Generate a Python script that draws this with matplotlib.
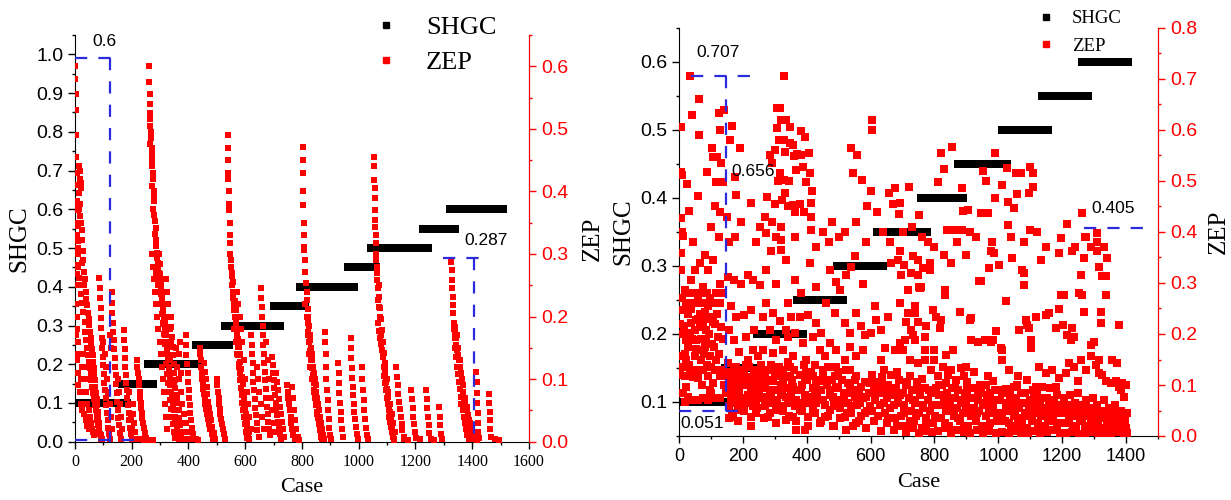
import matplotlib
matplotlib.use("Agg")
import matplotlib.pyplot as plt
import numpy as np
from matplotlib.lines import Line2D
from matplotlib.ticker import MultipleLocator

SANS = "Liberation Sans"
SERIF = "Liberation Serif"
RED = "#ff0000"
BLUE = "#2b2bdd"

# ---------------- left panel data ----------------
# SHGC steps: level, first case, last case
left_shgc = [0.10, 0.15, 0.20, 0.25, 0.30, 0.35, 0.40, 0.45, 0.50, 0.55, 0.60]
left_start = [0, 165, 258, 428, 528, 700, 792, 962, 1045, 1227, 1322]
left_end = [183, 275, 435, 545, 722, 810, 983, 1063, 1245, 1340, 1508]

# ZEP points (case, zep) per SHGC block
left_g010 = [(0,.600),(1,.580),(2,.555),(3,.530),(4,.490),(5,.455),(6,.430),(7,.410),(8,.385),(9,.370),(10,.345),(11,.320),(12,.310),
    (14,.440),(16,.432),(18,.420),(20,.414),(22,.406),(15,.398),(19,.380),(13,.372),(17,.360),(21,.350),(24,.338),(26,.322),
    (3,.300),(5,.282),(7,.268),(28,.305),(30,.290),(25,.285),(33,.272),(36,.260),(31,.250),(38,.240),(40,.228),(43,.218),(46,.205),
    (48,.196),(50,.186),(53,.176),(55,.166),(57,.158),(60,.148),(62,.138),(64,.128),(66,.118),(68,.108),(70,.098),(72,.088),(74,.078),
    (76,.068),(78,.058),(80,.048),(82,.040),(84,.030),(86,.020),(88,.012),(90,.004),
    (14,.262),(18,.250),(22,.236),(26,.222),(30,.208),(34,.192),(37,.176),(40,.162),(43,.150),(46,.138),(49,.128),(52,.118),(55,.108),
    (58,.098),(61,.088),(64,.078),(67,.068),(70,.058),(73,.050),(76,.042),(79,.034),(82,.026),(86,.018),(90,.010),(95,.004),
    (86,.262),(88,.246),(89,.230),(90,.214),(92,.198),(93,.182),(95,.166),(96,.150),(98,.136),(100,.122),(102,.108),(104,.094),
    (106,.082),(108,.070),(110,.058),(112,.046),(115,.034),(118,.022),(121,.012),(125,.004),
    (130,.240),(131,.222),(132,.206),(134,.190),(135,.176),(137,.162),(138,.148),(140,.134),(141,.120),(143,.106),(145,.092),
    (147,.078),(149,.064),(151,.050),(153,.038),(155,.026),(158,.014),(162,.004),
    (172,.178),(173,.162),(175,.148),(176,.134),(178,.120),(180,.106),(181,.094),(183,.082),(185,.070),(187,.058),(189,.046),
    (191,.034),(193,.022),(196,.012),(200,.004),
    (218,.130),(220,.120),(222,.110),(224,.100),(226,.090),(228,.080),(230,.070),(232,.062),(234,.054),(236,.046),(238,.038),
    (241,.030),(244,.022),(247,.014),(251,.006),
    (205,.060),(206,.045),(208,.030),(210,.015),(215,.004),(230,.004),(245,.003),(265,.003),(275,.003),
    (2,.25),(4,.22),(6,.20),(8,.18),(10,.16),(12,.14),(3,.17),(6,.13),(9,.11),(12,.09),(16,.08),(20,.10),(24,.12),(28,.14),
    (32,.12),(36,.10),(40,.08),(44,.06),(48,.05),(52,.04),(56,.03),(60,.02),(64,.015),(68,.01),(20,.06),(26,.05),(32,.045),
    (38,.035),(44,.025),(50,.02),(3,.38),(5,.35),(8,.33),(10,.30),(12,.28),(9,.25),(100,.16),(105,.14),(110,.12),(114,.10),
    (118,.08),(122,.06),(126,.04),(130,.02),(122,.17),(126,.15),(150,.10),(154,.08),(158,.06),(162,.04),(166,.02),(190,.08),
    (194,.06),(198,.04),(202,.02)]

left_g020 = [(262,.600),(262,.575),(263,.555),(264,.540),(265,.525),(266,.515),(265,.505),(267,.495),(268,.485),(266,.475),
    (270,.470),(272,.460),(271,.450),(273,.440),(274,.430),(276,.420),(272,.408),(277,.400),(278,.392),(280,.385),(276,.372),
    (279,.362),(282,.352),(284,.342),(281,.332),(285,.322),(286,.312),(288,.302),(290,.294),(292,.286),(294,.278),(296,.270),
    (298,.262),(300,.254),(302,.246),(304,.238),(306,.230),(308,.222),(310,.214),(312,.206),(314,.198),(316,.190),(318,.180),
    (320,.170),(322,.160),(324,.150),(326,.140),(328,.130),(330,.120),(332,.110),(334,.100),(336,.090),(339,.080),(342,.070),
    (345,.060),(348,.050),(351,.040),(354,.030),(358,.020),(362,.012),(366,.005),
    (296,.300),(298,.284),(300,.268),(302,.252),(304,.236),(306,.220),(308,.204),(310,.188),(313,.172),(316,.156),(319,.140),
    (322,.124),(325,.108),(328,.094),(331,.080),(334,.066),(337,.052),(340,.040),(344,.028),(348,.016),(352,.006),
    (338,.200),(340,.184),(342,.168),(344,.152),(346,.138),(348,.124),(350,.110),(352,.098),(354,.086),(357,.074),(360,.062),
    (363,.050),(366,.038),(370,.026),(374,.014),(378,.005),
    (390,.170),(392,.154),(393,.138),(395,.124),(397,.110),(399,.096),(401,.082),(403,.070),(405,.058),(407,.046),(410,.034),
    (413,.022),(417,.012),(421,.004),(385,.030),(425,.004),(432,.003),
    (270,.30),(274,.28),(278,.26),(282,.24),(286,.22),(290,.20),(294,.18),(298,.16),(302,.14),(306,.12),(310,.10),(314,.08),
    (318,.06),(322,.04),(326,.02),(285,.27),(292,.25),(300,.22),(310,.19),(318,.17),(326,.15),(334,.13),(342,.11),(350,.09),
    (358,.07),(366,.05),(374,.03),(380,.015),(320,.26),(324,.24),(328,.22),(332,.20),(336,.18),(340,.16),(330,.18),(355,.15),
    (360,.12),(366,.10),(372,.08),(378,.06),(384,.045),(390,.03),(396,.015),(400,.005),(365,.14),(370,.16),(375,.11)]

left_g025 = [(440,.150),(441,.140),(443,.130),(444,.120),(446,.110),(448,.100),(450,.092),(452,.084),(454,.076),(457,.068),
    (460,.060),(463,.052),(466,.044),(469,.036),(473,.028),(477,.020),(482,.012),(488,.005),
    (455,.125),(458,.112),(461,.100),(464,.088),(467,.076),(470,.064),(473,.054),(476,.044),(480,.034),(484,.024),(489,.014),
    (494,.005),(500,.100),(502,.090),(504,.080),(506,.070),(508,.060),(510,.052),(512,.044),(515,.036),(518,.028),(521,.020),
    (525,.012),(529,.005)]

left_g030 = [(538,.490),(538,.470),(540,.450),(541,.430),(540,.420),(542,.400),(543,.380),(544,.370),(546,.350),(547,.330),
    (545,.318),(548,.300),(549,.290),(550,.280),(552,.265),(554,.250),(556,.240),(558,.230),(560,.220),(562,.210),(565,.200),
    (568,.188),(571,.176),(574,.164),(577,.152),(580,.140),(583,.128),(586,.116),(589,.104),(591,.092),(593,.080),(595,.070),
    (597,.060),(599,.050),(601,.040),(603,.030),(606,.020),(609,.012),(613,.005),
    (555,.270),(558,.255),(561,.240),(564,.225),(566,.210),(568,.195),(570,.180),(572,.166),(574,.152),(576,.138),(578,.124),
    (580,.110),(582,.098),(584,.086),(587,.074),(590,.062),(593,.050),(596,.040),(600,.028),(604,.016),(608,.006),
    (622,.170),(623,.155),(624,.140),(626,.125),(627,.110),(629,.096),(631,.082),(633,.068),(635,.054),(637,.042),(640,.030),
    (643,.018),(647,.008),
    (656,.245),(657,.230),(658,.215),(660,.200),(661,.185),(662,.170),(664,.155),(665,.140),(667,.126),(669,.112),(671,.098),
    (673,.084),(675,.070),(677,.056),(679,.044),(682,.032),(685,.020),(689,.010),
    (695,.135),(697,.122),(699,.110),(701,.098),(703,.086),(705,.074),(707,.062),(709,.052),(712,.042),(715,.032),(718,.022),
    (722,.012),(726,.005),
    (710,.110),(713,.096),(716,.082),(719,.068),(722,.056),(725,.044),(728,.032),(732,.020),(736,.008),
    (560,.18),(566,.16),(572,.14),(578,.12),(584,.10),(590,.08),(596,.06),(602,.045),(608,.03),(614,.015),(570,.24),(575,.22),
    (580,.20),(585,.18),(590,.16),(595,.13),(600,.10),(605,.08),(610,.06),(615,.04),(620,.02),(640,.12),(645,.10),(650,.08),
    (655,.06),(660,.04),(665,.02),(675,.16),(680,.13),(685,.10),(690,.07),(695,.05),(700,.03),(705,.015)]

left_g035 = [(748,.090),(750,.080),(752,.070),(754,.060),(757,.050),(760,.040),(763,.030),(766,.020),(770,.010),(775,.004),
    (764,.088),(768,.070),(772,.050),(776,.035),(780,.020),(785,.008),(790,.003)]

left_g040 = [(804,.471),(804,.450),(804,.429),(805,.400),(805,.378),(806,.350),(807,.330),(808,.311),(808,.306),(810,.290),
    (812,.272),(814,.253),(816,.240),(818,.226),(820,.212),(822,.200),(825,.185),(828,.170),(830,.163),(832,.150),(834,.140),
    (836,.130),(839,.120),(842,.110),(845,.100),(848,.090),(851,.080),(854,.070),(857,.060),(860,.050),(863,.040),(866,.030),
    (869,.020),(873,.010),(877,.004),
    (820,.190),(823,.175),(826,.160),(829,.145),(832,.130),(835,.118),(838,.106),(841,.094),(844,.082),(847,.070),(850,.058),
    (853,.048),(856,.038),(860,.028),(864,.018),(868,.008),
    (881,.176),(882,.160),(883,.140),(885,.120),(886,.100),(888,.082),(890,.066),(892,.050),(894,.036),(896,.022),(899,.010),
    (903,.004),(928,.126),(929,.110),(931,.094),(932,.078),(934,.062),(936,.048),(938,.034),(940,.020),(943,.008),
    (972,.166),(973,.150),(974,.134),(975,.118),(977,.102),(979,.088),(981,.074),(983,.060),(985,.048),(988,.036),(991,.024),
    (994,.012),(998,.004),(1010,.120),(1012,.100),(1014,.082),(1017,.066),(1020,.050),(1023,.036),(1026,.022),(1030,.010),
    (1034,.004),
    (812,.22),(816,.20),(820,.17),(825,.14),(830,.12),(836,.10),(842,.08),(848,.06),(854,.045),(860,.03),(866,.015),(870,.005)]

left_g050 = [(1054,.455),(1055,.440),(1055,.418),(1056,.405),(1057,.389),(1057,.370),(1058,.354),(1059,.343),(1060,.330),
    (1061,.317),(1060,.300),(1062,.290),(1063,.280),(1064,.270),(1066,.258),(1068,.245),(1067,.226),(1070,.215),(1067,.190),
    (1072,.177),(1075,.165),(1078,.156),(1082,.146),(1085,.136),(1088,.120),(1090,.105),(1093,.094),(1096,.082),(1099,.070),
    (1102,.060),(1105,.050),(1108,.040),(1111,.032),(1114,.024),(1117,.016),(1120,.008),(1124,.003),
    (1070,.250),(1073,.232),(1076,.214),(1079,.196),(1082,.178),(1085,.160),(1088,.142),(1091,.126),(1094,.110),(1097,.096),
    (1100,.084),(1103,.072),(1106,.060),(1110,.048),(1114,.036),(1118,.024),(1122,.014),(1126,.005),
    (1133,.120),(1135,.104),(1137,.090),(1139,.076),(1142,.064),(1145,.052),(1148,.040),(1151,.028),(1154,.018),(1158,.008),
    (1186,.083),(1188,.068),(1190,.054),(1192,.040),(1195,.028),(1198,.016),(1202,.006),
    (1237,.083),(1239,.068),(1241,.054),(1243,.040),(1246,.026),(1249,.014),(1253,.005),
    (1283,.055),(1285,.040),(1287,.026),(1290,.012),(1294,.004),(1160,.004),(1175,.003),(1215,.004),(1265,.003),
    (1075,.20),(1080,.17),(1086,.14),(1092,.12),(1098,.10),(1104,.08),(1110,.06),(1116,.045),(1122,.03),(1128,.015)]

left_g060 = [(1327,.288),(1328,.275),(1329,.258),(1330,.245),(1331,.232),(1332,.218),(1334,.205),(1336,.190),(1338,.183),
    (1340,.175),(1342,.165),(1344,.155),(1346,.146),(1349,.138),(1352,.130),(1356,.120),(1360,.110),(1363,.100),(1366,.090),
    (1369,.080),(1372,.070),(1376,.060),(1380,.050),(1384,.042),(1388,.034),(1392,.026),(1396,.020),(1400,.014),(1405,.008),
    (1410,.004),(1416,.002),
    (1335,.180),(1338,.165),(1341,.150),(1344,.135),(1347,.120),(1350,.108),(1353,.096),(1356,.084),(1359,.072),(1362,.060),
    (1366,.050),(1370,.040),(1374,.030),(1378,.020),(1383,.010),(1388,.004),
    (1415,.112),(1416,.095),(1417,.078),(1418,.062),(1419,.046),(1420,.030),(1422,.016),(1425,.006),
    (1459,.077),(1460,.062),(1461,.048),(1462,.034),(1464,.020),(1466,.008),(1480,.004),(1495,.003),
    (1345,.17),(1350,.15),(1356,.13),(1362,.11),(1368,.09),(1374,.07),(1380,.055),(1386,.04),(1392,.03),(1398,.02),(1404,.01)]

# ---------------- right panel data ----------------
right_shgc = [0.10, 0.15, 0.20, 0.25, 0.30, 0.35, 0.40, 0.45, 0.50, 0.55, 0.60]
right_start = [0, 144, 244, 368, 494, 619, 759, 873, 1012, 1137, 1263]
right_end = [144, 248, 388, 513, 638, 778, 890, 1028, 1156, 1281, 1406]

right_b0 = [(34,.706),(62,.661),(40,.629),(5,.606),(64,.591),(5,.517),(8,.512),(26,.495),(87,.518),(31,.441),(5,.427),(10,.40),
    (14,.393),(102,.564),(107,.548),(120,.548),(128,.60),(125,.633),(141,.639),(131,.536),(137,.499),(116,.499),(128,.44),(113,.45),
    (124,.39),(165,.608),(160,.58),(175,.508),(191,.565),(178,.473),(174,.39),(100,.41),(60,.47),(45,.38),(150,.43),(155,.38),(195,.42),
    (7,.325),(18,.286),(23,.26),(7,.156),(13,.136),(18,.117),(23,.097),(39,.306),(44,.28),(65,.339),(80,.355),(91,.325),(106,.345),
    (117,.28),(128,.299),(128,.26),(133,.214),(122,.195),(117,.149),(128,.117),(96,.156),(101,.136),(85,.188),(80,.175),(65,.214),
    (54,.227),(49,.208),(39,.221),(33,.201),(28,.175),(49,.156),(70,.149),(76,.13),(91,.117),(106,.103),(23,.149),(13,.247),(65,.24),
    (91,.254),(80,.244),(96,.234),(106,.224),(85,.208),(111,.175),(33,.123),(60,.113),(7,.358),(49,.325),(76,.293),(60,.267),(39,.25),
    (76,.218),(54,.188),(23,.188),(65,.169),
    (18,.067),(39,.071),(60,.071),(76,.074),(91,.071),(111,.074),(128,.074),(28,.077),(13,.084),(96,.090),
    (152,.312),(173,.306),(194,.299),(163,.254),(180,.234),(158,.208),(173,.188),(189,.165),
    (152,.143),(163,.123),(168,.110),(180,.097),(173,.077),(189,.117),(194,.103),(158,.058),(168,.038),(184,.051),(200,.058),
    (173,.136),(184,.130),(158,.103),(147,.084),(158,.090),(180,.071),(189,.084),(194,.064),(168,.064),(163,.074),(152,.117),
    (182,.113),(200,.130),(158,.035),
    (3,.22),(10,.27),(15,.215),(20,.16),(27,.24),(35,.28),(42,.19),(47,.26),(52,.17),(58,.23),(63,.28),(68,.19),(72,.26),
    (78,.16),(83,.23),(88,.28),(93,.20),(98,.27),(103,.18),(108,.26),(113,.22),(120,.24),(125,.16),(132,.28),(138,.19),
    (3,.12),(12,.20),(30,.14),(44,.115),(56,.13),(72,.1),(88,.14),(100,.085),(112,.13),(135,.13),(140,.10)]

right_b1 = [(225,.457),(269,.43),(272,.398),(284,.551),(290,.535),(302,.56),(308,.604),(328,.705),(306,.643),(317,.644),(320,.62),
    (334,.62),(313,.58),(330,.58),(349,.606),(346,.574),(356,.57),(361,.549),(370,.553),(381,.551),(381,.598),(396,.586),(365,.522),
    (389,.528),(333,.557),(329,.502),(333,.476),(322,.463),(317,.515),(340,.45),(356,.453),(364,.39),(318,.41),(305,.39),(318,.385),
    (275,.469),(362,.44),(380,.455),(390,.44),(300,.455),(310,.5),(345,.5),(290,.42),(240,.38),(255,.41),
    (215,.316),(232,.306),(253,.296),(205,.238),(225,.247),(210,.195),(236,.208),(232,.169),(215,.149),(246,.156),
    (273,.261),(294,.241),(315,.225),(336,.208),(341,.195),(289,.362),(320,.365),(336,.345),(362,.306),(273,.325),(305,.299),
    (383,.28),(341,.260),(378,.234),(362,.201),(389,.182),(263,.169),(294,.162),(325,.169),(357,.156),(284,.208),(305,.188),
    (352,.234),(263,.234),(398,.149),
    (205,.123),(210,.110),(215,.103),(225,.084),(232,.103),(236,.090),(241,.117),(241,.045),(225,.038),(232,.058),(215,.064),
    (246,.090),(252,.074),(220,.136),(252,.123),(263,.117),(278,.130),(294,.107),(305,.090),(325,.103),(336,.077),(315,.058),
    (294,.064),(273,.077),(346,.117),(357,.097),(367,.071),(383,.090),(393,.110),(378,.051),(357,.038),(336,.032),(367,.012),
    (393,.012),(268,.097),(284,.090),(310,.117),(325,.130),(346,.136),(289,.077),(305,.051),(268,.058),(278,.038),(341,.064),
    (362,.058),(388,.064),(320,.084),(352,.084),(273,.107),(299,.136)]

right_b2 = [(408,.554),(410,.515),(418,.481),(397,.498),(412,.456),(413,.404),(412,.43),(540,.565),(545,.515),(556,.55),(572,.502),
    (450,.40),(470,.38),(480,.42),(500,.39),(520,.40),(555,.42),(585,.38),(430,.37),(590,.45),(600,.48),
    (404,.238),(430,.221),(446,.201),(461,.260),(493,.302),(503,.286),(524,.316),(540,.332),(550,.352),(487,.241),(519,.221),
    (534,.201),(472,.182),(441,.169),(493,.169),(534,.175),(555,.241),(571,.215),(581,.199),(420,.195),(456,.156),(519,.149),
    (555,.156),(576,.169),(410,.339),(472,.325),(430,.293),(576,.299),
    (399,.123),(420,.117),(430,.103),(451,.130),(461,.110),(472,.090),(487,.117),(498,.097),(519,.084),(529,.103),(540,.090),
    (410,.077),(430,.064),(451,.071),(472,.051),(493,.058),(519,.038),(540,.058),(404,.038),(441,.025),(482,.019),(524,.012),
    (555,.117),(571,.097),(586,.077),(566,.064),(581,.045),(555,.025),(441,.090),(482,.077),(503,.071),(420,.051),(456,.038),
    (550,.077),(597,.103),(597,.058),(534,.130),(493,.136),(451,.107),(425,.090)]

right_b3 = [(603,.62),(603,.60),(657,.477),(671,.455),(677,.487),(688,.435),(691,.457),(720,.488),(750,.433),(640,.40),(700,.40),
    (730,.41),(760,.39),(780,.38),(620,.44),(660,.38),
    (602,.201),(613,.254),(618,.228),(634,.208),(644,.172),(634,.149),(665,.339),(686,.345),(696,.316),(717,.286),(727,.319),
    (748,.345),(764,.329),(753,.293),(717,.241),(707,.188),(727,.208),(748,.224),(769,.169),(675,.169),(654,.234),(691,.260),
    (691,.362),(706,.336),(733,.352),(748,.316),(759,.293),(785,.339),(785,.326),(754,.290),(738,.254),(738,.241),(712,.224),
    (775,.215),(733,.198),(738,.188),(769,.195),(701,.169),(691,.182),(722,.149),(748,.143),(769,.149),(790,.130),
    (605,.120),(610,.095),(615,.070),(620,.105),(625,.085),(630,.060),(635,.115),(640,.090),(645,.045),(650,.075),(655,.100),
    (660,.055),(665,.120),(670,.080),(675,.035),(680,.095),(685,.065),(690,.110),(695,.040),(700,.085),(705,.060),(710,.100),
    (715,.020),(720,.075),(725,.050),(730,.090),(735,.030),(740,.065),(745,.105),(750,.045),(755,.080),(760,.015),(765,.060),
    (770,.095),(775,.035),(780,.070),(785,.050),(790,.085),(795,.025),(612,.030),(632,.010),(652,.025),(672,.012),(692,.020),
    (712,.008),(732,.015),(752,.005),(772,.010),(792,.008),(642,.130),(682,.125),(722,.118),(762,.112)]

right_b4 = [(810,.499),(820,.554),(830,.523),(855,.567),(886,.487),(890,.441),(952,.52),(961,.50),(945,.437),(968,.437),(988,.554),
    (988,.466),(840,.404),(865,.404),(885,.404),(910,.40),(904,.443),(870,.38),(930,.39),(980,.38),(800,.37),
    (830,.355),(851,.339),(898,.355),(940,.303),(945,.303),(971,.329),(976,.362),(987,.358),(1003,.336),(795,.247),(806,.234),
    (816,.211),(821,.228),(832,.286),(832,.277),(879,.244),(910,.228),(915,.231),(915,.188),(936,.185),(957,.188),(977,.185),
    (983,.188),(993,.205),(800,.169),(858,.169),(837,.159),
    (800,.149),(811,.117),(826,.136),(852,.130),(884,.133),(894,.117),(899,.136),(925,.126),(936,.090),(967,.117),(983,.107),
    (837,.103),(868,.110),
    (805,.095),(810,.060),(815,.080),(820,.035),(825,.100),(830,.070),(835,.050),(840,.085),(845,.020),(850,.065),(855,.095),
    (860,.040),(865,.075),(870,.055),(875,.090),(880,.030),(885,.070),(890,.045),(895,.085),(900,.060),(905,.020),(910,.075),
    (915,.040),(920,.095),(925,.055),(930,.030),(935,.070),(940,.050),(945,.085),(950,.020),(955,.065),(960,.040),(965,.080),
    (970,.055),(975,.025),(980,.070),(985,.045),(990,.090),(995,.030),(812,.010),(832,.015),(852,.006),(872,.012),(892,.008),
    (912,.005),(932,.012),(952,.006),(972,.010),(992,.005),(842,.120),(902,.105),(962,.100)]

right_b5 = [(1010,.492),(1027,.525),(1031,.459),(1055,.515),(1062,.515),(1070,.515),(1058,.475),(1048,.447),(1095,.476),
    (1100,.528),(1110,.515),(1110,.488),(1100,.404),(1030,.414),(1196,.388),(1040,.39),(1080,.38),(1150,.37),(1120,.40),
    (1044,.349),(1075,.326),(1080,.319),(1080,.296),(1133,.345),(1190,.358),(1008,.172),(1024,.264),(1065,.208),(1086,.228),
    (1091,.218),(1096,.211),(1102,.188),(1102,.172),(1117,.234),(1148,.238),(1159,.241),(1180,.211),(1190,.250),(1195,.277),
    (1201,.218),(1206,.277),(1013,.149),(1013,.169),(1024,.093),(1050,.097),(1091,.110),(1117,.097),(1128,.136),(1138,.097),
    (1148,.123),(1169,.130),(1180,.097),(1190,.113),(1211,.123),(1034,.130),(1060,.117),
    (1005,.070),(1010,.045),(1015,.090),(1020,.030),(1025,.065),(1030,.050),(1035,.080),(1040,.020),(1045,.060),(1050,.040),
    (1055,.075),(1060,.025),(1065,.055),(1070,.085),(1075,.035),(1080,.065),(1085,.045),(1090,.015),(1095,.055),(1100,.070),
    (1105,.030),(1110,.060),(1115,.045),(1120,.080),(1125,.025),(1130,.065),(1135,.040),(1140,.075),(1145,.020),(1150,.055),
    (1155,.035),(1160,.070),(1165,.050),(1170,.030),(1175,.065),(1180,.045),(1185,.080),(1190,.025),(1195,.060),(1012,.008),
    (1032,.005),(1052,.010),(1072,.006),(1092,.004),(1112,.010),(1132,.006),(1152,.008),(1172,.012),(1192,.006),(1058,.100),
    (1108,.090),(1162,.095)]

right_b6 = [(1215,.416),(1263,.437),(1270,.39),(1275,.39),(1308,.398),(1310,.38),(1290,.37),(1240,.37),(1330,.37),
    (1232,.362),(1258,.316),(1268,.349),(1310,.362),(1315,.332),(1326,.313),(1336,.313),(1341,.349),(1216,.198),(1227,.188),
    (1237,.195),(1232,.211),(1253,.280),(1263,.277),(1268,.244),(1289,.179),(1300,.185),(1320,.221),(1320,.244),(1336,.277),
    (1378,.218),(1221,.143),(1237,.136),(1248,.107),(1289,.156),(1305,.140),(1315,.123),(1326,.120),(1336,.107),(1352,.103),
    (1367,.107),(1378,.097),(1388,.103),(1393,.077),(1357,.149),(1372,.143),(1315,.149),(1258,.149),(1274,.130),(1383,.090),
    (1399,.100),
    (1205,.075),(1210,.045),(1215,.060),(1220,.030),(1225,.080),(1230,.050),(1235,.020),(1240,.065),(1245,.040),(1250,.085),
    (1255,.030),(1260,.060),(1265,.045),(1270,.015),(1275,.070),(1280,.040),(1285,.055),(1290,.025),(1295,.075),(1300,.045),
    (1305,.020),(1310,.060),(1315,.035),(1320,.050),(1325,.015),(1330,.070),(1335,.040),(1340,.025),(1345,.055),(1350,.035),
    (1355,.045),(1360,.015),(1365,.060),(1370,.030),(1375,.040),(1380,.020),(1385,.050),(1390,.025),(1395,.035),(1400,.015),
    (1403,.045),(1212,.006),(1232,.008),(1252,.004),(1272,.006),(1292,.008),(1312,.004),(1332,.006),(1352,.005),(1372,.008),
    (1392,.005),(1402,.006)]

# dense low-ZEP band of the right panel
right_low_a = [(150,.095),(156,.125),(162,.105),(168,.085),(174,.115),(180,.135),(186,.095),(192,.075),(198,.120),(204,.100),
    (210,.140),(216,.080),(222,.115),(228,.095),(234,.130),(240,.070),(246,.105),(252,.085),(258,.140),(264,.095),(270,.125),
    (276,.075),(282,.110),(288,.140),(294,.090),(300,.120),(306,.070),(312,.135),(318,.100),(324,.080),(330,.115),(336,.095),
    (342,.145),(348,.075),(354,.110),(360,.130),(366,.090),(372,.060),(378,.120),(384,.100),(390,.140),(396,.080),(402,.110),
    (408,.065),(414,.125),(420,.095),(426,.140),(432,.075),(438,.110),(444,.090),(450,.120),(456,.060),(462,.100),(468,.135),
    (474,.080),(480,.110),(486,.065),(492,.095),(498,.125),(504,.055),(510,.110),(516,.080),(522,.130),(528,.065),(534,.100),
    (540,.045),(546,.085),(552,.110),(558,.060),(564,.090),(570,.040),(576,.075),(582,.105),(588,.050),(594,.085),
    (165,.045),(185,.030),(205,.050),(225,.020),(245,.055),(265,.035),(285,.045),(305,.025),(325,.050),(345,.040),(365,.030),
    (385,.050),(405,.020),(425,.045),(445,.030),(465,.040),(485,.020),(505,.035),(525,.045),(545,.020),(565,.030),(585,.015)]

right_low_b = [(603,.05),(613,.085),(623,.04),(633,.10),(643,.065),(653,.035),(663,.09),(673,.06),(683,.02),(693,.08),(703,.045),
    (713,.105),(723,.03),(733,.07),(743,.04),(753,.095),(763,.055),(773,.025),(783,.09),(793,.06),(803,.04),(813,.1),(823,.06),
    (833,.025),(843,.075),(853,.05),(863,.095),(873,.035),(883,.065),(893,.02),(903,.09),(913,.055),(923,.075),(933,.045),
    (943,.1),(953,.06),(963,.02),(973,.085),(983,.055),(993,.07),(1003,.04),(1013,.085),(1023,.055),(1033,.025),(1043,.075),
    (1053,.045),(1063,.065),(1073,.02),(1083,.085),(1093,.04),(1103,.05),(1113,.075),(1123,.055),(1133,.02),(1143,.045),
    (1153,.075),(1163,.035),(1173,.055),(1183,.015),(1193,.045),(1203,.055),(1213,.025),(1223,.04),(1233,.06),(1243,.02),
    (1253,.05),(1263,.03),(1273,.045),(1283,.02),(1293,.035),(1303,.055),(1313,.025),(1323,.04),(1333,.015),(1343,.04),
    (1353,.02),(1363,.035),(1373,.05),(1383,.035),(1393,.015),(1398,.03)]

left_blocks = [left_g010, left_g020, left_g025, left_g030, left_g035, left_g040, left_g050, left_g060]
right_blocks = [right_b0, right_b1, right_b2, right_b3, right_b4, right_b5, right_b6, right_low_a, right_low_b]


def step_points(levels, starts, ends, step):
    xs, ys = [], []
    for lev, a, b in zip(levels, starts, ends):
        c = np.arange(a, b + 1, step)
        xs.append(c)
        ys.append(np.full(len(c), lev))
    return np.concatenate(xs), np.concatenate(ys)


def style_axes(ax, axr, xfont, xsize):
    ax.spines["top"].set_visible(False)
    axr.spines["top"].set_visible(False)
    axr.spines["right"].set_color(RED)
    axr.spines["left"].set_visible(False)
    axr.spines["bottom"].set_visible(False)
    for a in (ax, axr):
        a.tick_params(which="major", direction="out", length=5, width=1)
        a.tick_params(which="minor", direction="out", length=2.5, width=1)
    ax.tick_params(axis="x", which="both", top=False)
    axr.tick_params(axis="y", which="both", colors=RED, labelcolor=RED)
    for t in ax.get_yticklabels():
        t.set_fontfamily(SANS); t.set_fontsize(14)
    for t in axr.get_yticklabels():
        t.set_fontfamily(SANS); t.set_fontsize(14)
    for t in ax.get_xticklabels():
        t.set_fontfamily(xfont); t.set_fontsize(xsize)


def dashed(ax, xs, ys):
    ax.plot(xs, ys, color=BLUE, lw=1.6, dashes=(5.5, 5), zorder=5)


fig = plt.figure(figsize=(12.31, 5.0), dpi=100)

# ---------------- left panel ----------------
ax1 = fig.add_axes([0.0609, 0.1166, 0.3688, 0.8134])
ax1r = ax1.twinx()
sx, sy = step_points(left_shgc, left_start, left_end, 2)
ax1.scatter(sx, sy, marker="s", s=30, color="black", linewidths=0)
lp = np.array([p for blk in left_blocks for p in blk])
ax1r.scatter(lp[:, 0], lp[:, 1], marker="s", s=20, color=RED, linewidths=0, zorder=3)
ax1.set_xlim(0, 1600)
ax1.set_ylim(0, 1.05)
ax1r.set_ylim(0, 0.65)
ax1.xaxis.set_major_locator(MultipleLocator(200))
ax1.xaxis.set_minor_locator(MultipleLocator(100))
ax1.yaxis.set_minor_locator(MultipleLocator(0.05))
ax1r.yaxis.set_minor_locator(MultipleLocator(0.05))
ax1.set_yticks(np.arange(0, 1.01, 0.1))
ax1.set_yticklabels([f"{v:.1f}" for v in np.arange(0, 1.01, 0.1)])
ax1r.set_yticks(np.arange(0, 0.61, 0.1))
ax1r.set_yticklabels([f"{v:.1f}" for v in np.arange(0, 0.61, 0.1)])
style_axes(ax1, ax1r, SERIF, 11.5)
ax1.set_xlabel("Case", fontfamily=SERIF, fontsize=16, labelpad=6)
ax1.set_ylabel("SHGC", fontfamily=SERIF, fontsize=18, labelpad=4)
ax1r.set_ylabel("ZEP", fontfamily=SERIF, fontsize=18, labelpad=10)

dashed(ax1r, [0, 128], [0.614, 0.614])
dashed(ax1r, [123, 123], [0.614, 0])
dashed(ax1r, [0, 210], [0.002, 0.002])
dashed(ax1r, [1297, 1423], [0.293, 0.293])
dashed(ax1r, [1406, 1406], [0.293, 0])
ax1r.text(103, 0.64, "0.6", fontfamily=SANS, fontsize=12.5, ha="center", va="center")
ax1r.text(1449, 0.322, "0.287", fontfamily=SANS, fontsize=12.5, ha="center", va="center")

handles = [Line2D([], [], marker="s", ls="", color="black", ms=5),
           Line2D([], [], marker="s", ls="", color=RED, ms=5)]
fig.legend(handles, ["SHGC", "ZEP"], loc="upper left", bbox_to_anchor=(0.303, 0.98),
           frameon=False, prop={"family": SERIF, "size": 19}, handlelength=0.6,
           handletextpad=1.2, labelspacing=0.45, borderaxespad=0.1, borderpad=0.1)

# ---------------- right panel ----------------
ax2 = fig.add_axes([0.5516, 0.128, 0.3891, 0.816])
ax2r = ax2.twinx()
sx, sy = step_points(right_shgc, right_start, right_end, 2)
ax2.scatter(sx, sy, marker="s", s=30, color="black", linewidths=0)
rp = np.array([p for blk in right_blocks for p in blk])
ax2r.scatter(rp[:, 0], rp[:, 1], marker="s", s=26, color=RED, linewidths=0, zorder=3)
ax2.set_xlim(0, 1500)
ax2.set_ylim(0.05, 0.65)
ax2r.set_ylim(0, 0.8)
ax2.xaxis.set_minor_locator(MultipleLocator(100))
ax2.set_xticks(np.arange(0, 1401, 200))
ax2.set_yticks(np.arange(0.1, 0.61, 0.1))
ax2.set_yticklabels([f"{v:.1f}" for v in np.arange(0.1, 0.61, 0.1)])
ax2.yaxis.set_minor_locator(MultipleLocator(0.05))
ax2r.set_yticks(np.arange(0, 0.81, 0.1))
ax2r.set_yticklabels([f"{v:.1f}" for v in np.arange(0, 0.81, 0.1)])
ax2r.yaxis.set_minor_locator(MultipleLocator(0.05))
style_axes(ax2, ax2r, SANS, 13)
ax2.set_xlabel("Case", fontfamily=SERIF, fontsize=16, labelpad=6)
ax2.set_ylabel("SHGC", fontfamily=SERIF, fontsize=18, labelpad=4)
ax2r.set_ylabel("ZEP", fontfamily=SERIF, fontsize=18, labelpad=8)

dashed(ax2r, [36, 237], [0.706, 0.706])
dashed(ax2r, [147, 147], [0.706, 0.05])
dashed(ax2r, [0, 200], [0.05, 0.05])
dashed(ax2r, [1268, 1465], [0.408, 0.408])
ax2r.text(123, 0.751, "0.707", fontfamily=SANS, fontsize=12.5, ha="center", va="center")
ax2r.text(231, 0.518, "0.656", fontfamily=SANS, fontsize=12.5, ha="center", va="center")
ax2r.text(73, 0.025, "0.051", fontfamily=SANS, fontsize=12.5, ha="center", va="center")
ax2r.text(1358, 0.447, "0.405", fontfamily=SANS, fontsize=12.5, ha="center", va="center")

fig.legend(handles, ["SHGC", "ZEP"], loc="upper left", bbox_to_anchor=(0.839, 0.995),
           frameon=False, prop={"family": SERIF, "size": 13.5}, handlelength=0.6,
           handletextpad=1.1, labelspacing=0.55, borderaxespad=0.2, borderpad=0.2)

fig.savefig("out.png", dpi=100)
